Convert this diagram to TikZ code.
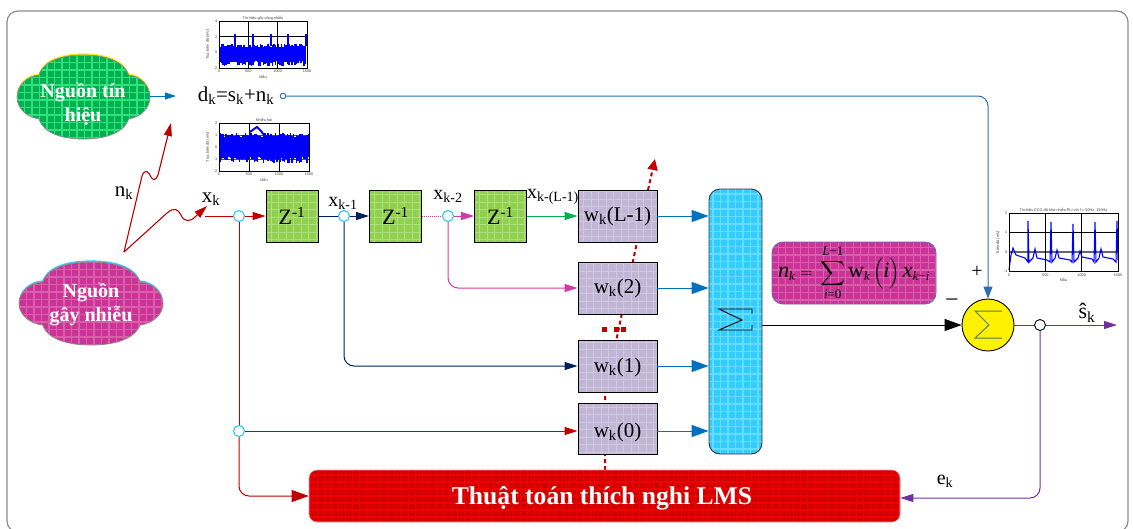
\documentclass[tikz,border=0pt]{standalone}
\usepackage{amsmath}
\usepackage{fontspec}
\setmainfont{Liberation Serif}
\setsansfont{Liberation Sans}
\usepackage{tikz}
\usetikzlibrary{arrows.meta,shapes.geometric}
\definecolor{srcgreen}{HTML}{00B050}
\definecolor{srcgrid}{HTML}{2FE27C}
\definecolor{zgreen}{HTML}{92D050}
\definecolor{zgrid}{HTML}{AEDF7E}
\definecolor{wlilac}{HTML}{C2B6D6}
\definecolor{wgrid}{HTML}{D2C9E1}
\definecolor{sumcyan}{HTML}{33CCFF}
\definecolor{sumgrid}{HTML}{66DCFF}
\definecolor{magbox}{HTML}{CC3399}
\definecolor{maggrid}{HTML}{D95FA9}
\definecolor{lmsred}{HTML}{D00000}
\definecolor{lmsgrid}{HTML}{F00000}
\definecolor{wirered}{HTML}{C00000}
\definecolor{wirenavy}{HTML}{002060}
\definecolor{wirepink}{HTML}{D63AA0}
\definecolor{wiregreen}{HTML}{00B050}
\definecolor{wireblue}{HTML}{0070C0}
\definecolor{wiresteel}{HTML}{2E6DB4}
\definecolor{wirepurple}{HTML}{7030A0}
\definecolor{ringcyan}{HTML}{33CCFF}
\tikzset{
  gridfill/.style n args={3}{fill=#1, path picture={\draw[#2, line width=1.2pt]
    (path picture bounding box.south west) grid[step=#3] (path picture bounding box.north east);}},
  zbox/.style={draw=black, line width=0.9pt, gridfill={zgreen}{zgrid}{7.5pt}, minimum width=52pt, minimum height=52pt, inner sep=0pt, font=\fontsize{22}{24}\selectfont},
  wbox/.style={draw=black, line width=0.9pt, gridfill={wlilac}{wgrid}{7.5pt}, minimum width=79pt, minimum height=52pt, inner sep=0pt, font=\fontsize{21}{24}\selectfont},
  ring/.style={circle, draw=ringcyan, fill=white, line width=1.2pt, minimum size=11pt, inner sep=0pt},
  lab/.style={inner sep=0pt, font=\fontsize{20}{24}\selectfont},
  smalllab/.style={inner sep=0pt, font=\fontsize{20}{22}\selectfont},
  cloudlab/.style={inner sep=0pt, align=center, text=white, font=\fontsize{20}{24}\selectfont\bfseries},
  bigtip/.style={-{Triangle[length=17pt,width=12pt]}, line width=1pt},
  midtip/.style={-{Triangle[length=13pt,width=8pt]}, line width=1pt},
  ticklab/.style={inner sep=0pt, text=black!75, font=\fontsize{3.8}{4}\selectfont\sffamily},
  noiseline/.style={blue, line width=1.6pt},
  redtrail/.style={wirered, line width=2pt, dash pattern=on 4pt off 3pt},
}
\newcommand{\cloudoutline}{(.165,.24) .. controls (.2,.06) and (.35,0) .. (.5,0)
  .. controls (.65,0) and (.8,.06) .. (.84,.24) .. controls (.93,.25) and (1,.37) .. (1,.5)
  .. controls (1,.63) and (.93,.74) .. (.84,.76) .. controls (.8,.94) and (.65,1) .. (.5,1)
  .. controls (.35,1) and (.2,.94) .. (.165,.76) .. controls (.07,.74) and (0,.63) .. (0,.5)
  .. controls (0,.37) and (.07,.25) .. (.165,.24) -- cycle}
% cloud: x, y, width, height, rim colour, fill, grid
\newcommand{\cloudblob}[7]{
  \begin{scope}[shift={(#1,#2)}, x=#3pt, y=-#4pt]
    \fill[#5, yshift=1.6pt] \cloudoutline;
    \draw[draw=black!45, line width=0.8pt, gridfill={#6}{#7}{7.5pt}] \cloudoutline;
  \end{scope}
}
% small plot frame: name, x0, y0, x1, y1, title, ylabel
\newcommand{\plotframe}[7]{
  \draw[black, line width=1pt] (#2,#3) rectangle (#4,#5);
  \node[ticklab, anchor=south] (#1title) at ({(#2+#4)/2},#3-1) {#6};
  \node[ticklab, rotate=90] (#1ylab) at (#2-11,{(#3+#5)/2}) {#7};
  \node[ticklab] (#1xlab) at ({(#2+#4)/2},#5+9) {Mẫu};
}
% weight label: index, strut height
\newcommand{\wlab}[2]{\rule{0pt}{#2}w\textsubscript{k}(#1)}
\newcommand{\fmla}[1]{\text{\fontsize{22}{24}\selectfont\textit{#1}}}
\begin{document}
\begin{tikzpicture}[x=1pt,y=-1pt]
\useasboundingbox (0,0) rectangle (1133,528);
\clip (0,0) rectangle (1133,528);
\draw[black!45, line width=1.2pt, rounded corners=11pt] (7,11) rectangle (1128,532);
% sources
\cloudblob{17}{55}{133}{84}{yellow}{srcgreen}{srcgrid}
\node[cloudlab] (srcCloud) at (83,104) {Nguồn tín\\hiệu};
\cloudblob{19}{262}{144}{83}{ringcyan}{magbox}{maggrid}
\node[cloudlab] (noiseCloud) at (91,304) {Nguồn\\gây nhiễu};
\coordinate (srcOut) at (150,96);
\coordinate (dkIn) at (176,96);
\draw[wireblue, -{Triangle[length=11pt,width=7pt]}, line width=0.9pt] (srcOut) -- (dkIn);
\node[lab, font=\fontsize{21}{24}\selectfont] (dkLab) at (236,96) {d\textsubscript{k}=s\textsubscript{k}+n\textsubscript{k}};
\node[circle, draw=wiresteel, fill=white, line width=1pt, minimum size=5.5pt, inner sep=0pt] (dkRing) at (283,96) {};
% noise arrows
\coordinate (noiseTip) at (124,252);
\coordinate (nkEnd) at (171,123);
\coordinate (xkEnd) at (207,206);
\draw[wirered, line width=1.1pt, -{Triangle[length=13pt,width=8pt]}] (noiseTip) -- (142,176) .. controls (145,168) and (149,172) .. (151,177) .. controls (153,181) and (156,180) .. (158,175) -- (nkEnd);
\draw[wirered, line width=1.1pt, -{Triangle[length=13pt,width=8pt]}] (noiseTip) -- (167,213) .. controls (174,207) and (178,209) .. (181,215) .. controls (184,222) and (190,222) .. (195,217) -- (xkEnd);
\node[lab, font=\fontsize{21}{24}\selectfont] (nkLab) at (124,193) {n\textsubscript{k}};
\node[lab, font=\fontsize{21}{24}\selectfont] (xkLab) at (211,199) {x\textsubscript{k}};
% red trail behind the weights
\coordinate (trailStart) at (605,470);
\coordinate (trailBend) at (605,392);
\coordinate (trailMid) at (617,337);
\coordinate (trailEnd) at (655,159);
\draw[redtrail] (trailStart) -- (trailBend) -- (trailMid) -- (640,228);
\draw[wirered, line width=2pt, dash pattern=on 4pt off 3pt, -{Triangle[length=11pt,width=10pt,sep=0pt]}] (648,190) -- (trailEnd);
\coordinate (dotsA) at (602,329);
\coordinate (dotsB) at (626,329);
\draw[wirered, line width=5pt, dash pattern=on 5pt off 7pt on 5pt off 2pt on 5pt off 2pt] (dotsA) -- (dotsB);
% delay line
\node[zbox] (zOne) at (292,216) {Z\textsuperscript{-1}};
\node[zbox] (zTwo) at (395.5,216) {Z\textsuperscript{-1}};
\node[zbox] (zThree) at (500.5,216) {Z\textsuperscript{-1}};
\node[wbox] (wLast) at (617.5,216) {\wlab{L-1}{16pt}};
\node[wbox] (wTwo) at (617.5,288) {\wlab{2}{16pt}};
\node[wbox] (wOne) at (617.5,366) {\wlab{1}{17pt}};
\node[wbox, minimum height=51pt] (wZero) at (617.5,428.5) {\wlab{0}{22pt}};
\node[draw=black!80, line width=0.9pt, rounded corners=11pt, gridfill={sumcyan}{sumgrid}{7.5pt}, minimum width=53pt, minimum height=265pt, inner sep=0pt] (sumBar) at (735.5,321.5) {};
\node[draw=blue!60!black!60, line width=0.9pt, rounded corners=11pt, gridfill={magbox}{maggrid}{7.5pt}, minimum width=164pt, minimum height=62pt, inner sep=0pt, font=\fontsize{18.5}{22}\selectfont] (nkBox) at (854,273) {$\displaystyle\fmla{n}_{\textit{k}}\;{=}\;\sum_{\text{\textit{i}=0}}^{\text{\textit{L}−1}}\text{\fontsize{22}{24}\selectfont w}_{\textit{k}}\,\Big(\fmla{i}\Big)\,\fmla{x}_{\text{\textit{k}−\textit{i}}}$};
\node[draw=red!40, line width=0.6pt, rounded corners=8pt, gridfill={lmsred}{lmsgrid}{7pt}, minimum width=591pt, minimum height=52pt, inner sep=0pt] (lmsBox) at (604.5,496) {};
\node[inner sep=0pt, text=white, font=\fontsize{25.6}{28}\selectfont\bfseries] (lmsLab) at (602,498) {Thuật toán thích nghi LMS};
\node[ring] (jX) at (239,216) {};
\node[ring] (jA) at (344,216) {};
\node[ring] (jB) at (448,216) {};
\node[ring] (jZero) at (239,431) {};
\node[smalllab] (xkOne) at (343,203) {x\textsubscript{k-1}};
\node[smalllab] (xkTwo) at (448,196) {x\textsubscript{k-2}};
\node[smalllab] (xkLast) at (553,197) {x\textsubscript{k-(L-1)}};
% wires
\coordinate (xkStart) at (205,216);
\draw[wirered, line width=1pt] (xkStart) -- (jX);
\draw[wirered, midtip] (jX) -- (zOne);
\draw[wirered, line width=1pt] (jX) -- (jZero);
\draw[wirered, bigtip, rounded corners=10pt] (jZero) |- (lmsBox.west);
\draw[wirered, midtip] (jZero) -- (jZero -| wZero.west);
\draw[wirenavy, line width=1pt] (zOne) -- (jA);
\draw[wirenavy, midtip] (jA) -- (zTwo);
\draw[wirenavy, midtip, rounded corners=10pt] (jA) |- (wOne.west);
\draw[wirepink, line width=1pt, densely dotted] (zTwo) -- (jB);
\draw[wirepink, midtip] (jB) -- (zThree);
\draw[wirepink, midtip, rounded corners=10pt] (jB) |- (wTwo.west);
\draw[wiregreen, midtip] (zThree) -- (wLast);
\foreach \wname in {wLast,wTwo,wOne}
  \draw[wireblue, bigtip] (\wname.east) -- (\wname.east -| sumBar.west);
\draw[wireblue, bigtip] (wZero.east |- jZero) -- (sumBar.west |- jZero);
% sigma on the bar
\draw[black, line width=0.9pt] (752,314) -- (752,309) -- (719,309) -- (742,320) -- (719,330) -- (752,330) -- (752,325);
% summing point
\node[circle, draw=black, fill=yellow, line width=0.9pt, minimum size=52pt, inner sep=0pt] (sumPoint) at (988,325) {};
\draw[wiresteel!70!yellow!80!black, line width=1pt] (1002,311) -- (975,311) -- (989,325) -- (975,338) -- (1002,338);
\draw[black, bigtip] (sumBar.east |- sumPoint) -- (sumPoint.west);
\draw[wiresteel, line width=1pt, -{Triangle[length=12pt,width=9pt]}, rounded corners=10pt] (dkRing.east) -| (sumPoint.north);
\node[lab] (plusLab) at (977,272) {+};
\node[lab, font=\fontsize{24}{24}\selectfont] (minusLab) at (952,303) {−};
\node[circle, draw=black, fill=white, line width=0.9pt, minimum size=11pt, inner sep=0pt] (jOut) at (1040,325) {};
\coordinate (outEnd) at (1117,325);
\draw[wirepurple, line width=1pt] (sumPoint) -- (jOut);
\draw[wirepurple, midtip] (jOut) -- (outEnd);
\draw[wirepurple, midtip, rounded corners=10pt] (jOut) |- (lmsBox.east |- 0,498);
\node[lab, font=\fontsize{22}{24}\selectfont] (shatLab) at (1087,313) {\^{s}\textsubscript{k}};
\node[lab] (ekLab) at (945,481) {e\textsubscript{k}};
% plots
\pgfmathsetseed{7}
\foreach \vx in {248.3,277.7} \draw[black, line width=0.9pt] (\vx,21) -- (\vx,68);
\draw[black, line width=0.9pt] (219,36.7) -- (307,36.7);
\foreach \vx in {220,221.5,...,306.5}{
  \pgfmathsetmacro{\noiseup}{43.5+4*rnd}
  \pgfmathsetmacro{\noisedn}{61+5*rnd}
  \draw[noiseline] (\vx,\noiseup) -- (\vx,\noisedn);
}
\foreach \sx in {235,253,271,288,306}
  \draw[blue, line width=1.4pt] (\sx,46) -- (\sx,34);
\plotframe{pa}{219}{21}{307}{68}{Tín hiệu gốc cộng nhiễu}{Trục biên độ (mV)}
\foreach \tx/\lab in {219/0,248.3/500,277.7/1000,307/1500}
  \node[ticklab] (pax\lab) at (\tx,71.5) {\lab};
\foreach \ty/\lab in {21/4,36.7/2,52.3/0,68/-2}
  \node[ticklab, anchor=east] (pay\lab) at (217.5,\ty) {\lab};
\foreach \vx in {249,279} \draw[black, line width=0.9pt] (\vx,123) -- (\vx,171);
\draw[black!70, line width=0.9pt] (219,135) -- (309,135);
\draw[black!70, line width=0.9pt] (219,159) -- (309,159);
\foreach \vx in {220,221.5,...,308.5}{
  \pgfmathsetmacro{\noiseup}{133+4*rnd}
  \pgfmathsetmacro{\noisedn}{157+6*rnd}
  \draw[noiseline] (\vx,\noiseup) -- (\vx,\noisedn);
}
\draw[blue, line width=2pt] (250,132) -- (254,129) -- (257,127) -- (261,131) -- (264,135);
\plotframe{pb}{219}{123}{309}{171}{Nhiễu hai}{Trục biên độ (mV)}
\foreach \tx/\lab in {219/0,249/500,279/1000,309/1500}
  \node[ticklab] (pbx\lab) at (\tx,174.5) {\lab};
\foreach \ty/\lab in {123/2,135/1,147/0,159/-1,171/-2}
  \node[ticklab, anchor=east] (pby\lab) at (217.5,\ty) {\lab};
\draw[black!60, line width=1.4pt] (1009,252) -- (1118,252);
\draw[black, line width=0.9pt] (1009,232) -- (1118,232);
\foreach \vx in {1045.3,1081.7} \draw[black, line width=0.9pt] (\vx,213) -- (\vx,271);
\draw[blue, line width=1.1pt] (1009,270) -- (1011,255) -- (1013,248) -- (1016,255) -- (1025,258) -- (1028,262) -- (1028,221) -- (1029,262) -- (1033,258) -- (1035,249) -- (1037,258) -- (1047,260) -- (1050,262) -- (1051,222) -- (1052,262) -- (1055,258) -- (1057,250) -- (1059,258) -- (1070,260) -- (1072,262) -- (1073,224) -- (1074,262) -- (1078,258) -- (1080,251) -- (1082,257) -- (1092,259) -- (1094,262) -- (1095,222) -- (1096,262) -- (1099,258) -- (1101,249) -- (1103,257) -- (1113,259) -- (1116,262) -- (1117,221) -- (1118,260);
\plotframe{pc}{1009}{213}{1118}{271}{Tín hiệu ECG đã khử nhiễu PLI với f = 50Hz, 150Hz}{Biên độ (mV)}
\foreach \tx/\lab in {1009/0,1045.3/500,1081.7/1000,1118/1500}
  \node[ticklab] (pcx\lab) at (\tx,275) {\lab};
\foreach \ty/\lab in {213/2,232/1,252/0,271/-1}
  \node[ticklab, anchor=east] (pcy\lab) at (1007.5,\ty) {\lab};
\end{tikzpicture}
\end{document}
